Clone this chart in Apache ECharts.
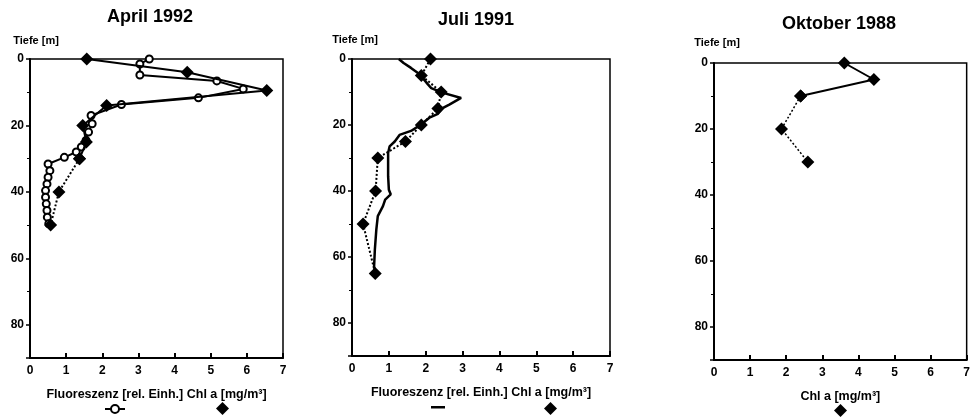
<!DOCTYPE html>
<html><head><meta charset="utf-8">
<script src="https://cdn.jsdelivr.net/npm/echarts@6/dist/echarts.min.js"></script>
<style>html,body{margin:0;padding:0;background:#fff}#c{width:973px;height:417px}</style>
</head><body><div id="c"></div>
<script>
// ---- texts ----
const panelTitles = ['April 1992', 'Juli 1991', 'Oktober 1988'];
const depthLabel = 'Tiefe [m]';
const xNames = ['Fluoreszenz [rel. Einh.] Chl a [mg/m³]', 'Fluoreszenz [rel. Einh.] Chl a [mg/m³]', 'Chl a [mg/m³]'];
const yTickLabels = ['0', '20', '40', '60', '80'];

// ---- April 1992 ----
const aprChlDepth = [0, 4, 9.5, 14, 20, 25, 30, 40, 50];
const aprChl      = [1.57, 4.35, 6.55, 2.12, 1.46, 1.56, 1.37, 0.8, 0.57];
const aprFluoDepth = [0, 1.5, 4.8, 6.6, 9, 11.7, 13.7, 17, 19.5, 22, 24.5, 26.5, 28, 29.6, 31.6, 33.6, 35.6, 37.6, 39.6, 41.6, 43.6, 45.6, 47.6, 49.6];
const aprFluo      = [3.3, 3.04, 3.04, 5.17, 5.9, 4.66, 2.53, 1.69, 1.72, 1.62, 1.55, 1.42, 1.28, 0.95, 0.5, 0.55, 0.5, 0.47, 0.43, 0.43, 0.45, 0.47, 0.48, 0.52];

// ---- Juli 1991 ----
const julChlDepth = [0, 5, 10, 15, 20, 25, 30, 40, 50, 65];
const julChl      = [2.13, 1.88, 2.42, 2.33, 1.88, 1.45, 0.70, 0.64, 0.30, 0.63];
const julFluoDepth = [0, 1.2, 2.7, 4.2, 5.5, 7.7, 8.8, 10.2, 11.8, 13.8, 14.8, 16.6, 17.8, 19.8, 21.8, 23, 25, 26.5, 28.5, 30.5, 35.5, 39.6, 41, 42.6, 44.6, 47.6, 51.7, 57.8, 62.8, 65];
const julFluo      = [1.27, 1.4, 1.6, 1.78, 1.9, 2.06, 2.15, 2.45, 2.96, 2.64, 2.47, 2.33, 2.1, 1.88, 1.6, 1.29, 1.16, 1.02, 0.98, 0.98, 0.98, 1.0, 1.05, 0.9, 0.84, 0.70, 0.66, 0.62, 0.6, 0.63];

// ---- Oktober 1988 ----
const oktChlDepth = [0, 5, 10, 20, 30];
const oktChl      = [3.61, 4.43, 2.40, 1.87, 2.60];

const FONT = 'Liberation Sans, Arial, sans-serif';
function pairs(vals, depths, from, to) {
  const out = [];
  for (let i = from; i <= to; i++) out.push([vals[i], depths[i]]);
  return out;
}

const grids = [
  {left: 30, top: 59, width: 253, height: 299},
  {left: 352, top: 59, width: 258, height: 297},
  {left: 714, top: 63, width: 253, height: 297}
].map(g => Object.assign({show: true, borderColor: '#000', borderWidth: 1.5, backgroundColor: 'transparent'}, g));

const xAxes = grids.map((g, i) => ({
  gridIndex: i, type: 'value', min: 0, max: 7, interval: 1,
  axisLine: {show: true, onZero: false, lineStyle: {color: '#000', width: 2}},
  axisTick: {show: true, inside: true, length: 5, lineStyle: {color: '#000', width: 2}},
  axisLabel: {color: '#000', fontWeight: 'bold', fontSize: 12, margin: 7, fontFamily: FONT},
  splitLine: {show: false},
  name: xNames[i], nameLocation: 'middle', nameGap: 30,
  nameTextStyle: {color: '#000', fontWeight: 'bold', fontSize: 12.5, fontFamily: FONT}
}));
const yAxes = grids.map((g, i) => ({
  gridIndex: i, type: 'value', min: 0, max: 90, interval: 20, inverse: true,
  axisLine: {show: true, onZero: false, lineStyle: {color: '#000', width: 2}},
  axisTick: {show: true, length: 4, lineStyle: {color: '#000', width: 1.5}},
  minorTick: {show: true, splitNumber: 2, length: 3, lineStyle: {color: '#000', width: 1}},
  axisLabel: {color: '#000', fontWeight: 'bold', fontSize: 12, margin: 6, fontFamily: FONT,
    showMaxLabel: false,
    formatter: v => (yTickLabels.indexOf(String(v)) >= 0 ? String(v) : '')},
  splitLine: {show: false}
}));

const diamond = {symbol: 'diamond', symbolSize: 13, itemStyle: {color: '#000'}};
const series = [
  // April
  {name: 'Fluoreszenz April 1992', type: 'line', xAxisIndex: 0, yAxisIndex: 0, clip: false, z: 2,
   data: pairs(aprFluo, aprFluoDepth, 0, aprFluo.length - 1),
   symbol: 'emptyCircle', symbolSize: 7, showAllSymbol: true,
   itemStyle: {color: '#000', borderWidth: 1.5}, lineStyle: {color: '#000', width: 2}},
  Object.assign({name: 'Chl a April 1992', type: 'line', xAxisIndex: 0, yAxisIndex: 0, clip: false, z: 3,
   data: pairs(aprChl, aprChlDepth, 0, 6), lineStyle: {color: '#000', width: 2}}, diamond),
  Object.assign({name: 'Chl a April 1992 tief', type: 'line', xAxisIndex: 0, yAxisIndex: 0, clip: false, z: 3,
   data: pairs(aprChl, aprChlDepth, 6, aprChl.length - 1), lineStyle: {color: '#000', width: 2, type: [2, 2]}}, diamond),
  // Juli
  {name: 'Fluoreszenz Juli 1991', type: 'line', xAxisIndex: 1, yAxisIndex: 1, clip: false, z: 2,
   data: pairs(julFluo, julFluoDepth, 0, julFluo.length - 1), showSymbol: false, symbol: 'none',
   itemStyle: {color: '#000'}, lineStyle: {color: '#000', width: 2.5}},
  Object.assign({name: 'Chl a Juli 1991', type: 'line', xAxisIndex: 1, yAxisIndex: 1, clip: false, z: 3,
   data: pairs(julChl, julChlDepth, 0, julChl.length - 1), lineStyle: {color: '#000', width: 2, type: [2, 2]}}, diamond),
  // Oktober
  Object.assign({name: 'Chl a Oktober 1988', type: 'line', xAxisIndex: 2, yAxisIndex: 2, clip: false, z: 3,
   data: pairs(oktChl, oktChlDepth, 0, 2), lineStyle: {color: '#000', width: 2}}, diamond),
  Object.assign({name: 'Chl a Oktober 1988 tief', type: 'line', xAxisIndex: 2, yAxisIndex: 2, clip: false, z: 3,
   data: pairs(oktChl, oktChlDepth, 2, oktChl.length - 1), lineStyle: {color: '#000', width: 1.5, type: [2, 2]}}, diamond)
];

function lg(name, left, top, w, h, icon) {
  const item = icon ? {name: name, icon: icon} : {name: name};
  return {data: [item], left: left, top: top, itemWidth: w, itemHeight: h, padding: 0,
    selectedMode: false, formatter: () => '', textStyle: {fontSize: 1}, itemGap: 0};
}
const legends = [
  lg('Fluoreszenz April 1992', 104, 404, 20, 10),
  lg('Chl a April 1992', 216, 402, 13, 13, 'diamond'),
  lg('Fluoreszenz Juli 1991', 431, 406, 14, 2.5, 'rect'),
  lg('Chl a Juli 1991', 544, 402, 13, 13, 'diamond'),
  lg('Chl a Oktober 1988', 834, 404, 13, 13, 'diamond')
];

function txt(text, x, y, size) {
  return {type: 'text', x: x, y: y, style: {text: text, font: 'bold ' + size + 'px ' + FONT,
    fill: '#000', textAlign: 'center', textVerticalAlign: 'middle', align: 'center', verticalAlign: 'middle'}};
}
const graphics = [
  txt(panelTitles[0], 150, 17, 18),
  txt(panelTitles[1], 476, 20, 18),
  txt(panelTitles[2], 839, 24, 18),
  txt(depthLabel, 36, 41, 11),
  txt(depthLabel, 355, 40, 11),
  txt(depthLabel, 717, 43, 11)
];

const chart = echarts.init(document.getElementById('c'), null, {renderer: 'canvas'});
chart.setOption({
  animation: false,
  backgroundColor: '#fff',
  grid: grids, xAxis: xAxes, yAxis: yAxes,
  legend: legends,
  graphic: graphics,
  series: series
});
</script></body></html>
